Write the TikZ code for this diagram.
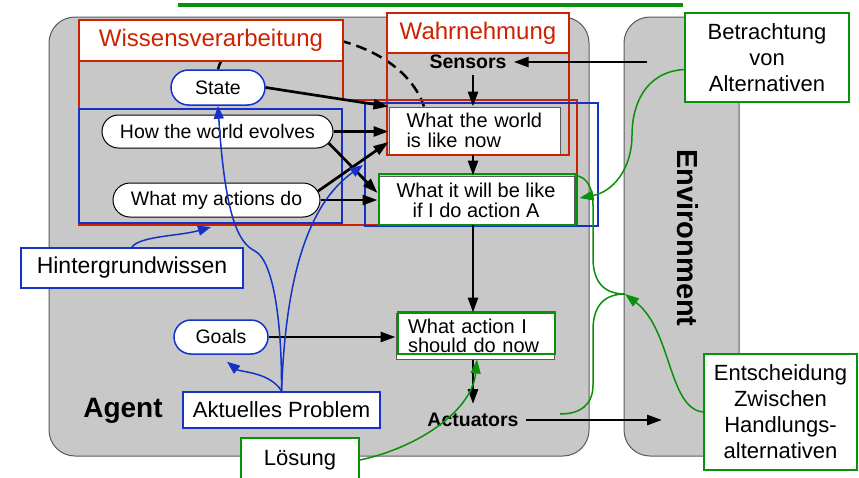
\documentclass[tikz,border=0pt]{standalone}
\usepackage{fontspec}
\setmainfont{Liberation Sans}
\usetikzlibrary{arrows.meta,shapes.misc}
\definecolor{wred}{RGB}{204,34,0}
\definecolor{wblue}{RGB}{20,50,200}
\definecolor{wgreen}{RGB}{10,145,10}
\definecolor{agray}{RGB}{200,200,200}
\definecolor{edgegray}{RGB}{90,90,90}
\begin{document}
\begin{tikzpicture}[x=1pt,y=-1pt,
  pill/.style={rounded rectangle, draw=black, line width=1pt, fill=white, inner sep=0pt, font=\fontsize{19.5}{20}\selectfont},
  bluepill/.style={pill, draw=wblue, line width=1.5pt},
  box/.style={rectangle, draw=edgegray, line width=1pt, fill=white, inner sep=0pt, font=\fontsize{20}{20}\selectfont},
  harrow/.style={line width=2.7pt, -{Triangle[length=15pt,width=10pt]}},
  barrow/.style={wblue, line width=1.5pt, -{Triangle[length=13pt,width=10pt]}},
  garrow/.style={wgreen, line width=1.5pt, -{Triangle[length=14pt,width=10pt]}},
  redline/.style={wred, line width=2.5pt},
  blueline/.style={wblue, line width=1.5pt},
  greenline/.style={wgreen, line width=2pt},
  header/.style={rectangle, draw=wred, line width=2.5pt, fill=white, inner sep=0pt, text=wred, font=\fontsize{24}{24}\selectfont},
  lbl/.style={rectangle, fill=white, inner sep=0pt, line width=2pt, font=\fontsize{22}{26}\selectfont, align=center},
  boldtxt/.style={font=\fontsize{19.5}{20}\selectfont\bfseries}
]
\path[use as bounding box] (0,0) rectangle (859,477);
\clip (0,0) rectangle (859,477);

% top green bar
\draw[wgreen, line width=4.5pt] (178,5) -- (683,5);

% agent and environment
\draw[fill=agray, draw=edgegray, line width=1pt, rounded corners=26pt] (49,17) rectangle (589,456);
\draw[fill=agray, draw=edgegray, line width=1pt, rounded corners=26pt] (624,17) rectangle (739,456);

\coordinate (col) at (473,0);

% nodes
\node[bluepill, minimum width=94pt, minimum height=35pt] (state) at (218,87.5) {State};
\node[pill, minimum width=231pt, minimum height=33pt] (evolves) at (217.5,131.5) {How the world evolves};
\node[pill, minimum width=207pt, minimum height=34pt] (actions) at (216.5,200) {What my actions do};
\node[bluepill, minimum width=94pt, minimum height=34pt] (goals) at (221,337) {Goals};

\node[box, minimum width=171pt, minimum height=47pt, text width=136pt, inner xsep=17.5pt, align=left] (world) at (474.5,130.5) {What the world\\is like now};
\node[box, minimum width=196pt, minimum height=48pt, align=center] (willbe) at (476,200) {What it will be like\\if I do action A};
\node[box, minimum width=158pt, minimum height=46pt, text width=134pt, inner xsep=12pt, align=left, font=\fontsize{20}{19}\selectfont] (action) at (475,336) {What action I\\should do now};

\node[boldtxt, inner xsep=7pt, inner ysep=6pt] (sensors) at (468,62) {Sensors};
\node[boldtxt, inner xsep=7pt, inner ysep=9pt] (actuators) at (473,420) {Actuators};
\node[font=\fontsize{28}{28}\selectfont\bfseries] (agentlbl) at (123,411) {Agent};
\node[rotate=-90, font=\fontsize{29}{29}\selectfont\bfseries] (envlbl) at (688,238) {Environment};

% dashed curve
\draw[line width=2.5pt, dash pattern=on 11pt off 6pt] (state.north) .. controls (230,15) and (395,22) .. ([xshift=-50.5pt]world.north);

% red regions
\draw[redline] (79,20) -- (343,20) -- (343,100) -- (577,100) -- (577,225) -- (79,225) -- cycle;
\node[header, minimum width=264pt, minimum height=41pt] (wvhead) at (211,40.5) {Wissensverarbeitung};
\draw[redline] (387,53) rectangle (569,155);
\node[header, minimum width=182pt, minimum height=40pt] (wnhead) at (478,33) {Wahrnehmung};

% blue regions
\draw[blueline] (79,109) rectangle (342,223);
\draw[blueline] (365,103) rectangle (598,226);

% green frames
\draw[greenline] (379,174) rectangle (576,225);
\draw[greenline] (398,312) rectangle (555,354);

% black arrows
\coordinate (senssrc) at (647,62);
\coordinate (acttip) at (662,420);
\draw[harrow] (state.east) -- (world.north west);
\draw[harrow] (evolves.east) -- (evolves.east -| world.west);
\draw[harrow] (evolves.-6) -- ([yshift=7pt]willbe.west);
\draw[harrow] (actions.5) -- ([yshift=-11.5pt]world.west);
\draw[harrow] (actions.east) -- (actions.east -| willbe.west);
\draw[harrow] (goals.east) -- (goals.east -| action.west);
\draw[harrow] (senssrc) -- (sensors.east);
\draw[harrow] (sensors.south -| col) -- (world.north -| col);
\draw[harrow] (world.south -| col) -- (willbe.north -| col);
\draw[harrow] (willbe.south -| col) -- (action.north -| col);
\draw[harrow] (action.south -| col) -- (actuators.north -| col);
\draw[harrow] (actuators.east) -- (acttip);

% labels
\node[lbl, draw=wblue, minimum width=222pt, minimum height=40pt, font=\fontsize{23}{23}\selectfont] (hint) at (132,268) {Hintergrundwissen};
\node[lbl, draw=wblue, minimum width=197pt, minimum height=36pt] (prob) at (281.5,410) {Aktuelles Problem};
\node[lbl, draw=wgreen, minimum width=118pt, minimum height=44pt, anchor=north west] (loesung) at (240,437) {Lösung};
\node[lbl, draw=wgreen, minimum width=164pt, minimum height=89pt] (betr) at (767,57.5) {Betrachtung\\von\\Alternativen};
\node[lbl, draw=wgreen, minimum width=153pt, minimum height=116pt] (ents) at (780.5,412) {Entscheidung\\Zwischen\\Handlungs-\\alternativen};

% blue arrows
\coordinate (hinttip) at (211,227);
\coordinate (probtip) at (363,165);
\draw[barrow] (hint.north) .. controls (140,236) and (180,236) .. (hinttip);
\draw[barrow] (prob.north) .. controls (282,330) and (275,262) .. (255,251) .. controls (238,243) and (225,215) .. (state.south);
\draw[barrow] (prob.north) .. controls (270,372) and (240,372) .. ([xshift=6pt,yshift=-7pt]goals.south);
\draw[barrow] (prob.north) .. controls (285,300) and (300,210) .. (probtip);

% green arrows
\coordinate (bracetip) at (625,294);
\coordinate (braceend) at (560,414);
\draw[garrow] ([yshift=-12pt]betr.west) .. controls (645,72) and (632,105) .. (632,135) .. controls (632,170) and (612,192) .. ([xshift=5pt,yshift=2pt]willbe.east);
\draw[wgreen, line width=1.5pt] (willbe.north east) .. controls (588,176) and (593,190) .. (593,205) -- (593,258) .. controls (593,283) and (605,294) .. (bracetip) .. controls (605,294) and (593,305) .. (593,330) -- (593,385) .. controls (593,405) and (580,414) .. (braceend);
\draw[garrow] (ents.west) .. controls (668,408) and (672,330) .. (bracetip);
\draw[garrow] (loesung.east) .. controls (420,447) and (472,410) .. ([xshift=2pt]action.south);
\end{tikzpicture}
\end{document}
